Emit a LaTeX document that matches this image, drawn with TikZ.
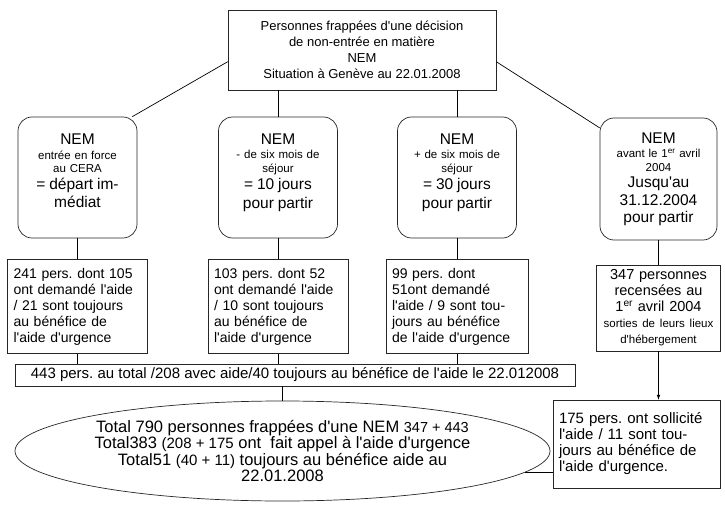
\documentclass[tikz,border=0pt]{standalone}
\usepackage{fontspec}
\setmainfont{Liberation Sans}[Ligatures=TeXOff]
\frenchspacing
\usetikzlibrary{arrows,shapes.geometric}
\newcommand{\bigtxt}{\fontsize{15.5}{17}\selectfont}
\newcommand{\smtxt}{\fontsize{11.5}{13.5}\selectfont}

\begin{document}
\begin{tikzpicture}[x=1pt,y=-1pt,node distance=129pt,line width=0.7pt,
  box/.style={draw=black!85,rectangle,inner sep=2pt},
  nem/.style={box,rounded corners=14pt,align=center,text width=115pt,minimum width=119pt,minimum height=121pt,font=\smtxt},
  res/.style={box,align=left,inner xsep=6pt,minimum height=94pt,font=\fontsize{14}{16}\selectfont}]
\useasboundingbox (0,0) rectangle (725,505);

\node[box,align=center,minimum width=268pt,minimum height=80pt,font=\fontsize{13}{16}\selectfont] (top) at (362,50)
  {Personnes frappées d'une décision\\de non-entrée en matière\\NEM\\Situation à Genève au 22.01.2008};

\node[nem] (n1) at (77.5,177.5) {{\bigtxt NEM}\\[1pt]entrée en force\\au CERA\\[3pt]{\bigtxt = départ im-}\\[3pt]{\bigtxt médiat}\\ \mbox{}};
\node[nem] (n2) at (278,177.5) {{\bigtxt NEM}\\[1pt]- de six mois de\\séjour\\[3pt]{\bigtxt = 10 jours}\\[3pt]{\bigtxt pour partir}\\ \mbox{}};
\node[nem] (n3) at (457,177.5) {{\bigtxt NEM}\\[1pt]+ de six mois de\\séjour\\[3pt]{\bigtxt = 30 jours}\\[3pt]{\bigtxt pour partir}\\ \mbox{}};
\node[nem,text width=113pt,minimum width=117pt,minimum height=122pt] (n4) at (658.5,179)
  {{\bigtxt NEM}\\[1pt]avant le 1\textsuperscript{er} avril\\2004\\[3pt]{\bigtxt Jusqu'au}\\[3pt]{\bigtxt 31.12.2004}\\[3pt]{\bigtxt pour partir}};

\node[res,text width=128pt] (b1) [below of = n1] {241 pers. dont 105\\ont demandé l'aide\\/ 21 sont toujours\\au bénéfice de\\l'aide d'urgence};
\node[res,text width=128pt] (b2) [below of = n2] {103 pers. dont 52\\ont demandé l'aide\\/ 10 sont toujours\\au bénéfice de\\l'aide d'urgence};
\node[res,text width=130pt] (b3) [below of = n3] {99 pers. dont\\51ont demandé\\l'aide / 9 sont tou-\\jours au bénéfice\\de l'aide d'urgence};
\node[res,align=center,text width=112pt,minimum height=86pt,font=\fontsize{14.5}{16}\selectfont] (b4) [below of = n4]
  {347 personnes\\recensées au\\1\textsuperscript{er} avril 2004\\{\smtxt sorties de leurs lieux}\\{\smtxt d'hébergement}};

\node[box,minimum width=560pt,minimum height=22pt,inner ysep=1pt,font=\fontsize{15}{16}\selectfont] (w) at (295,375)
  {443 pers. au total /208 avec aide/40 toujours au bénéfice de l'aide le 22.012008};

\node[draw=black!85,ellipse,inner sep=0pt,minimum width=535pt,minimum height=100pt,align=center,font=\fontsize{16.5}{16.5}\selectfont] (e) at (282.5,451)
  {Total 790 personnes frappées d'une NEM {\fontsize{14.5}{15}\selectfont 347 + 443}\\Total383 {\fontsize{15}{15}\selectfont(208 + 175} ont \ fait appel à l'aide d'urgence\\Total51 {\fontsize{15}{15}\selectfont(40 + 11)} toujours au bénéfice aide au\\22.01.2008};

\node[res,text width=155pt,minimum height=88pt,font=\fontsize{15}{16}\selectfont] (c) at (636.5,444)
  {175 pers. ont sollicité\\l'aide / 11 sont tou-\\jours au bénéfice de\\l'aide d'urgence.};

\draw (top.185) -- (n1.48);
\draw (n2.north |- top.south) -- (n2.north);
\draw (n3.north |- top.south) -- (n3.north);
\draw (top.-5) -- (n4.139);

\draw (n1) -- (b1);
\draw (n2) -- (b2);
\draw (n3) -- (b3);
\draw (n4) -- (b4);

\draw (b1.south) -- (b1.south |- w.north);
\draw (b2.south) -- (b2.south |- w.north);
\draw (b3.south) -- (b3.south |- w.north);
\draw (e.north |- w.south) -- (e.north);

\draw[-latex] (b4.south) -- (b4.south |- c.north);
\draw (e.-5) -- (e.-5 -| c.west);

\end{tikzpicture}
\end{document}
